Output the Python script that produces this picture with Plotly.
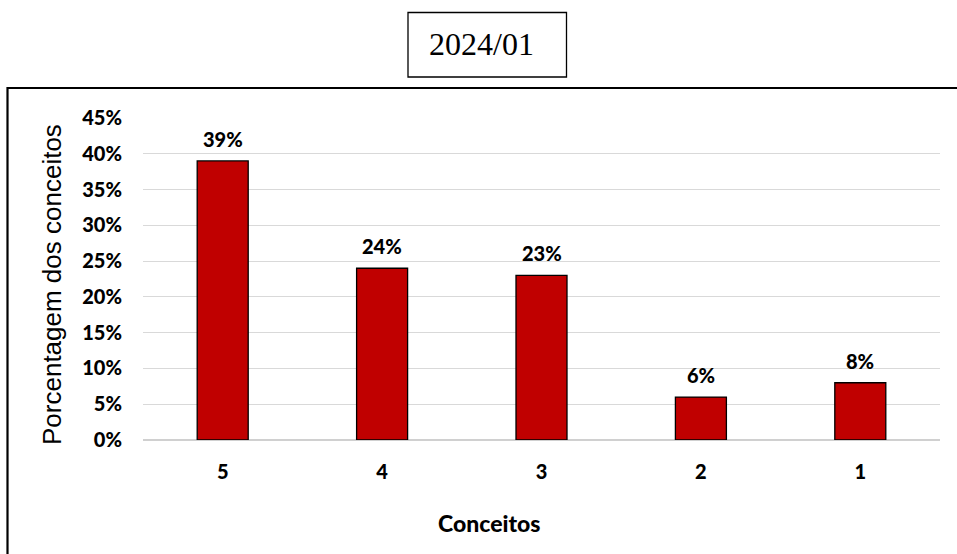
import plotly.graph_objects as go

categories = ["5", "4", "3", "2", "1"]
values = [0.39, 0.24, 0.23, 0.06, 0.08]
labels = ["39%", "24%", "23%", "6%", "8%"]
tick_vals = [0, 0.05, 0.10, 0.15, 0.20, 0.25, 0.30, 0.35, 0.40, 0.45]
tick_text = ["0%", "5%", "10%", "15%", "20%", "25%", "30%", "35%", "40%", "45%"]
title_text = "2024/01"
y_title = "Porcentagem dos conceitos"
x_title = "Conceitos"

W, H = 957, 554
L, R, T, B = 143, 17, 118, 114
PW, PH = W - L - R, H - T - B


def px(x):
    return (x - L) / PW


def py(y):
    return (H - B - y) / PH


bold = dict(family="Lato", size=20, color="black", weight=900)

fig = go.Figure()
fig.add_trace(go.Bar(
    x=categories, y=values,
    marker=dict(color="#c00000", line=dict(color="black", width=1.3)),
    width=0.32, hoverinfo="skip",
))

# data labels placed on the category axis by index position
annotations = [
    dict(text=lab, x=i, y=v, xref="x", yref="y", showarrow=False,
         yanchor="middle", yshift=22, font=bold)
    for i, (v, lab) in enumerate(zip(values, labels))
]
annotations += [
    dict(text=title_text, xref="paper", yref="paper", x=px(481), y=py(44),
         showarrow=False, xanchor="center", yanchor="middle",
         font=dict(family="Liberation Serif", size=32, color="black")),
    dict(text=y_title, xref="paper", yref="paper", x=px(52), y=py(285),
         showarrow=False, xanchor="center", yanchor="middle", textangle=-90,
         font=dict(family="Liberation Sans", size=26, color="black")),
    dict(text=x_title, xref="paper", yref="paper", x=px(489), y=py(523),
         showarrow=False, xanchor="center", yanchor="middle",
         font=dict(family="Lato", size=23, color="black", weight=900)),
]

fig.update_layout(
    width=W, height=H,
    margin=dict(l=L, r=R, t=T, b=B, autoexpand=False),
    paper_bgcolor="white", plot_bgcolor="white",
    showlegend=False,
    xaxis=dict(showgrid=False, showline=False, zeroline=False, ticks="",
               tickfont=bold, ticklabelstandoff=18, type="category",
               range=[-0.5, len(categories) - 0.5]),
    yaxis=dict(range=[0, 0.45], tickvals=tick_vals, ticktext=tick_text,
               tickfont=bold, showgrid=True, gridcolor="#d9d9d9", gridwidth=1.3,
               zeroline=True, zerolinecolor="#d0d0d0", zerolinewidth=1.5,
               showline=False, ticks="", ticklabelstandoff=20),
    shapes=[
        dict(type="rect", xref="paper", yref="paper",
             x0=px(7.5), x1=px(970), y0=py(88), y1=py(570),
             line=dict(color="black", width=2.2), fillcolor="rgba(0,0,0,0)"),
        dict(type="rect", xref="paper", yref="paper",
             x0=px(408), x1=px(566.5), y0=py(12.5), y1=py(77),
             line=dict(color="black", width=1.3), fillcolor="white"),
    ],
    annotations=annotations,
)

fig.write_html("out.html", config={"displayModeBar": False},
               post_script="document.body.style.margin='0';")
